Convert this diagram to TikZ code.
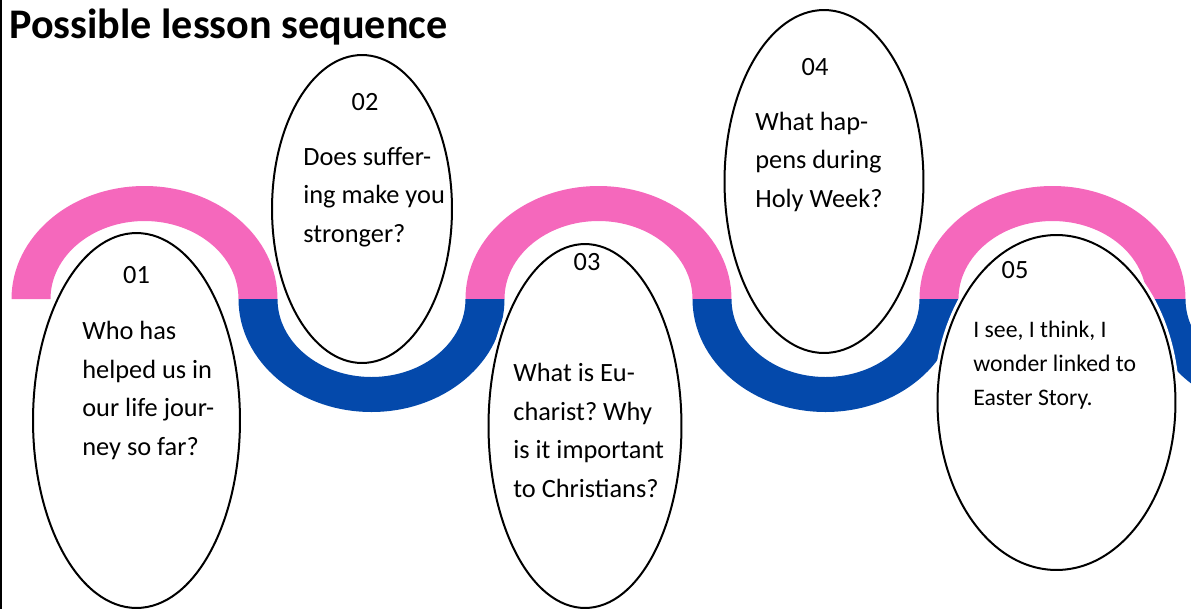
\documentclass[tikz,border=0pt]{standalone}
\usepackage{fontspec}
\setmainfont{Carlito}
\frenchspacing
\usetikzlibrary{shapes.geometric, positioning}
\definecolor{wavepink}{RGB}{245,104,188}
\definecolor{waveblue}{RGB}{4,73,171}
\tikzstyle{bubble}=[draw,fill=white,ellipse,inner sep=0pt,line width=0.04cm,preaction={draw=white,line width=0.16cm}]
\tikzstyle{num}=[inner sep=0pt,anchor=base,font=\fontsize{15}{22}\selectfont]
\tikzstyle{question}=[inner sep=0pt,anchor=base west,align=left,font=\fontsize{15}{21.9}\selectfont]
\newcommand{\pinkhump}[1]{\fill[wavepink] ({#1-133},299) arc[start angle=180,end angle=360,x radius=133,y radius=113] -- ({#1+94},299) arc[start angle=360,end angle=180,x radius=94,y radius=78] -- cycle;}
\newcommand{\bluedip}[1]{\fill[waveblue] ({#1-133},299) arc[start angle=180,end angle=0,x radius=133,y radius=113] -- ({#1+94},299) arc[start angle=0,end angle=180,x radius=94,y radius=78] -- cycle;}

\begin{document}
\begin{tikzpicture}[x=0.02cm,y=-0.02cm]
    \useasboundingbox (0,0) rectangle (1191,609);
    \draw[line width=0.04cm] (1,0) -- (1,609);
    \node[anchor=base west,inner sep=0pt,font=\fontsize{24}{28}\selectfont\bfseries] (title) at (9,38) {Possible lesson sequence};
    % the wave
    \begin{scope}
        \clip (0,0) rectangle (1191,609);
        \foreach \c in {144.5,598.5,1052.5} {\pinkhump{\c}}
        \foreach \c in {371.5,825.5,1279.5} {\bluedip{\c}}
    \end{scope}
    % bubbles
    \node[bubble,minimum width=4.14cm,minimum height=7.5cm] (e1) at (136.5,420.5) {};
    \node[bubble,minimum width=3.6cm,minimum height=6.16cm] (e2) at (362,209) {};
    \node[bubble,minimum width=3.86cm,minimum height=7.28cm] (e3) at (585,426) {};
    \node[bubble,minimum width=3.98cm,minimum height=6.86cm] (e4) at (824,181.5) {};
    \node[bubble,minimum width=4.76cm,minimum height=6.7cm] (e5) at (1056.5,402.5) {};
    \node[num] (n1) at (136.5,283) {01};
    \node[num] (n2) at (365,110) {02};
    \node[num] (n3) at (587,270) {03};
    \node[num] (n4) at (815,75) {04};
    \node[num] (n5) at (1015,278) {05};
    \node[question] (q1) at (82,455) {Who has\\helped us in\\our life jour-\\ney so far?};
    \node[question] (q2) at (303,242) {Does suffer-\\ing make you\\stronger?};
    \node[question] (q3) at (513,497) {What is Eu-\\charist? Why\\is it important\\to Christians?};
    \node[question] (q4) at (755,207) {What hap-\\pens during\\Holy Week?};
    \node[question,font=\fontsize{13.5}{19.1}\selectfont] (q5) at (973,405) {I see, I think, I\\wonder linked to\\Easter Story.};
\end{tikzpicture}
\end{document}
